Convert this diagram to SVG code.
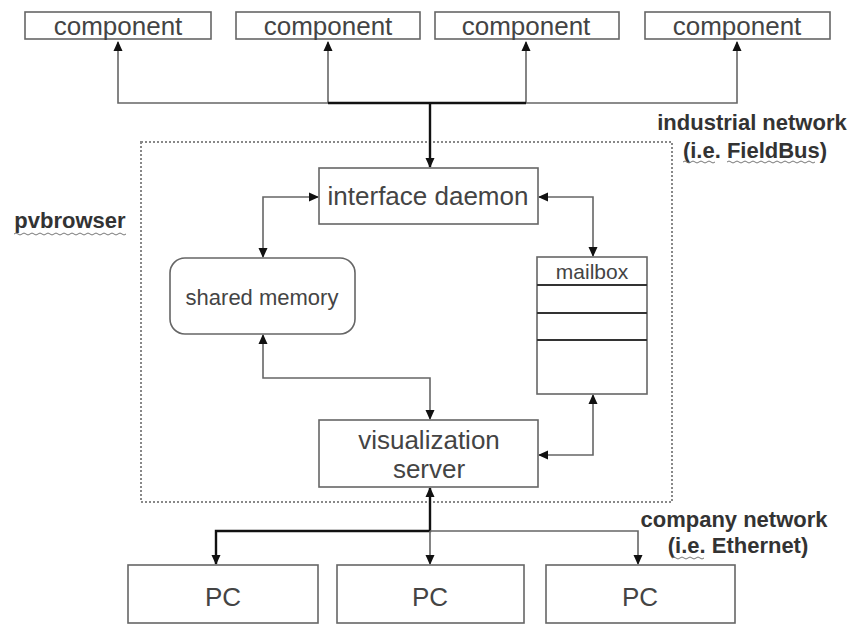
<svg xmlns="http://www.w3.org/2000/svg" width="852" height="624" viewBox="0 0 852 624">
<defs>
<marker id="ah" markerWidth="10" markerHeight="10" refX="9" refY="5" orient="auto-start-reverse" markerUnits="userSpaceOnUse" viewBox="0 0 10 10">
<path d="M0,0.5 L10,5 L0,9.5 z" fill="#111"/>
</marker>
<style>
.box{fill:#fff;stroke:#666;stroke-width:1.6}
.t{font-family:"Liberation Sans",Arial,sans-serif;fill:#444;text-anchor:middle}
.b{font-family:"Liberation Sans",Arial,sans-serif;fill:#333;font-weight:bold;text-anchor:middle;font-size:22px}
.c{fill:none;stroke:#666;stroke-width:1.6}
.k{fill:none;stroke:#111;stroke-width:2.4}
.w{fill:none;stroke:#777;stroke-width:1}
</style>
</defs>
<rect x="0" y="0" width="852" height="624" fill="#fff"/>

<g id="pvbrowser-frame">
<rect x="141" y="142" width="531" height="360" fill="none" stroke="#888" stroke-width="2" stroke-dasharray="2,2"/>
</g>

<g id="connectors">
<path class="c" d="M430,103 H118 V42" marker-end="url(#ah)"/>
<path class="c" d="M430,103 H737 V42" marker-end="url(#ah)"/>
<path class="c" d="M328,103 V42" marker-end="url(#ah)"/>
<path class="c" d="M526,103 V42" marker-end="url(#ah)"/>
<path class="k" d="M328,103 H526"/>
<path class="k" d="M430,103 V167" marker-end="url(#ah)"/>
<path class="c" d="M263,257 V197 H318" marker-start="url(#ah)" marker-end="url(#ah)"/>
<path class="c" d="M539,197 H593 V256" marker-start="url(#ah)" marker-end="url(#ah)"/>
<path class="c" d="M263,335 V378 H430 V419" marker-start="url(#ah)" marker-end="url(#ah)"/>
<path class="c" d="M593,395 V455 H539" marker-start="url(#ah)" marker-end="url(#ah)"/>
<path class="k" d="M430,488 V531 H216 V564" marker-start="url(#ah)" marker-end="url(#ah)"/>
<path class="c" d="M430,531 V564" marker-end="url(#ah)"/>
<path class="c" d="M430,531 H638 V564" marker-end="url(#ah)"/>
</g>

<g id="component1"><rect class="box" x="25" y="12" width="186" height="27"/><text class="t" x="118" y="35" font-size="26">component</text></g>
<g id="component2"><rect class="box" x="236" y="12" width="184" height="27"/><text class="t" x="328" y="35" font-size="26">component</text></g>
<g id="component3"><rect class="box" x="435" y="12" width="184" height="27"/><text class="t" x="526" y="35" font-size="26">component</text></g>
<g id="component4"><rect class="box" x="645" y="12" width="185" height="27"/><text class="t" x="737" y="35" font-size="26">component</text></g>

<g id="interface-daemon"><rect class="box" x="319" y="168" width="219" height="56"/><text class="t" x="428" y="205" font-size="26">interface daemon</text></g>

<g id="shared-memory"><rect class="box" x="170" y="258" width="185" height="76" rx="15"/><text class="t" x="262" y="305" font-size="22">shared memory</text></g>

<g id="mailbox"><rect class="box" x="537" y="257" width="110" height="137"/>
<line x1="537" y1="285" x2="647" y2="285" stroke="#333" stroke-width="2"/>
<line x1="537" y1="313" x2="647" y2="313" stroke="#333" stroke-width="2"/>
<line x1="537" y1="340" x2="647" y2="340" stroke="#333" stroke-width="2"/>
<text class="t" x="592" y="279" font-size="21">mailbox</text></g>

<g id="visualization-server"><rect class="box" x="319" y="420" width="219" height="67"/><text class="t" x="429" y="449" font-size="26">visualization</text><text class="t" x="429" y="478" font-size="26">server</text></g>

<g id="pc1"><rect class="box" x="128" y="565" width="190" height="58"/><text class="t" x="223" y="606" font-size="26">PC</text></g>
<g id="pc2"><rect class="box" x="337" y="565" width="187" height="58"/><text class="t" x="430" y="606" font-size="26">PC</text></g>
<g id="pc3"><rect class="box" x="546" y="565" width="189" height="58"/><text class="t" x="640" y="606" font-size="26">PC</text></g>

<g id="labels">
<text class="b" x="752" y="130">industrial network</text>
<text class="b" x="755" y="158">(i.e. FieldBus)</text>
<text class="b" x="70" y="228">pvbrowser</text>
<text class="b" x="734" y="527">company network</text>
<text class="b" x="738" y="553">(i.e. Ethernet)</text>
<path class="w" d="M683,162 q2,-2 4,0 t4,0 t4,0 t4,0 t4,0 t4,0 t4,0 t4,0"/>
<path class="w" d="M727,162 q2,-2 4,0 t4,0 t4,0 t4,0 t4,0 t4,0 t4,0 t4,0 t4,0 t4,0 t4,0 t4,0 t4,0 t4,0 t4,0 t4,0 t4,0 t4,0 t4,0 t4,0 t4,0 t4,0"/>
<path class="w" d="M14,234 q2,-2 4,0 t4,0 t4,0 t4,0 t4,0 t4,0 t4,0 t4,0 t4,0 t4,0 t4,0 t4,0 t4,0 t4,0 t4,0 t4,0 t4,0 t4,0 t4,0 t4,0 t4,0 t4,0 t4,0 t4,0 t4,0 t4,0 t4,0 t4,0"/>
<path class="w" d="M672,558 q2,-2 4,0 t4,0 t4,0 t4,0 t4,0 t4,0 t4,0 t4,0"/>
</g>
</svg>
